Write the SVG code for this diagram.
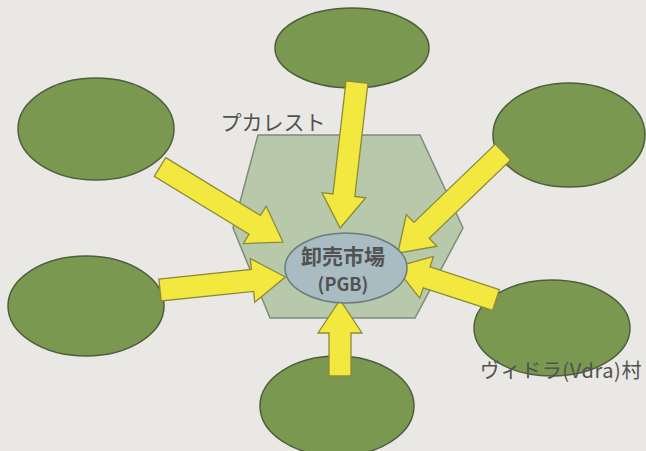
<svg xmlns="http://www.w3.org/2000/svg" width="646" height="451" viewBox="0 0 646 451">
<style>
.village{fill:#7b9850;stroke:#4e5e3c;stroke-width:1.5}
.arrow{fill:#f2e840;stroke:#8c8a3a;stroke-width:1.3;stroke-linejoin:miter}
.lbl{font-family:"Noto Sans CJK JP","Noto Sans",sans-serif;fill:#525252}
</style>
<rect width="646" height="451" fill="#e9e8e4"/>
<g id="bucharest">
<polygon points="258,135 420,135 463,228 415,318 270,318 233,228" fill="#b7c8ab" stroke="#7d8c7a" stroke-width="1.5"/>
<text class="lbl" x="273" y="130" font-size="21" text-anchor="middle">プカレスト</text>
</g>
<g id="v-top"><ellipse class="village" cx="352" cy="48" rx="77" ry="40"/></g>
<g id="v-topleft"><ellipse class="village" cx="96" cy="129" rx="78" ry="51"/></g>
<g id="v-topright"><ellipse class="village" cx="569" cy="135" rx="76" ry="52"/></g>
<g id="v-left"><ellipse class="village" cx="86" cy="306" rx="78" ry="50"/></g>
<g id="v-right"><ellipse class="village" cx="552" cy="328" rx="78" ry="48"/>
<text class="lbl" x="561" y="378" font-size="20" text-anchor="middle" letter-spacing="0.6">ヴィドラ(Vdra)村</text></g>
<g id="v-bottom"><ellipse class="village" cx="337" cy="406" rx="77" ry="50"/></g>
<g id="connectors">
<polygon class="arrow" transform="translate(357,82) rotate(96.6)" points="0,-11 114,-11 114,-22 147,0 114,22 114,11 0,11"/>
<polygon class="arrow" transform="translate(160,167) rotate(31.4)" points="0,-11 111,-11 111,-22 144,0 111,22 111,11 0,11"/>
<polygon class="arrow" transform="translate(503,152) rotate(136.1)" points="0,-11 113,-11 113,-22 146,0 113,22 113,11 0,11"/>
<polygon class="arrow" transform="translate(160,290) rotate(-5.9)" points="0,-11 93,-11 93,-22 126,0 93,22 93,11 0,11"/>
<polygon class="arrow" transform="translate(496,300) rotate(198.1)" points="0,-11 73,-11 73,-22 106,0 73,22 73,11 0,11"/>
<polygon class="arrow" transform="translate(340,376) rotate(-90)" points="0,-11 43,-11 43,-22 76,0 43,22 43,11 0,11"/>
</g>
<g id="pgb">
<ellipse cx="346" cy="268" rx="61" ry="35" fill="#a9bcc2" stroke="#6b7c80" stroke-width="1.5"/>
<text class="lbl" x="343" y="264" font-size="21" font-weight="bold" text-anchor="middle">卸売市場</text>
<text class="lbl" x="343" y="291" font-size="18" font-weight="bold" text-anchor="middle" font-family="Liberation Sans,sans-serif">(PGB)</text>
</g>
</svg>
